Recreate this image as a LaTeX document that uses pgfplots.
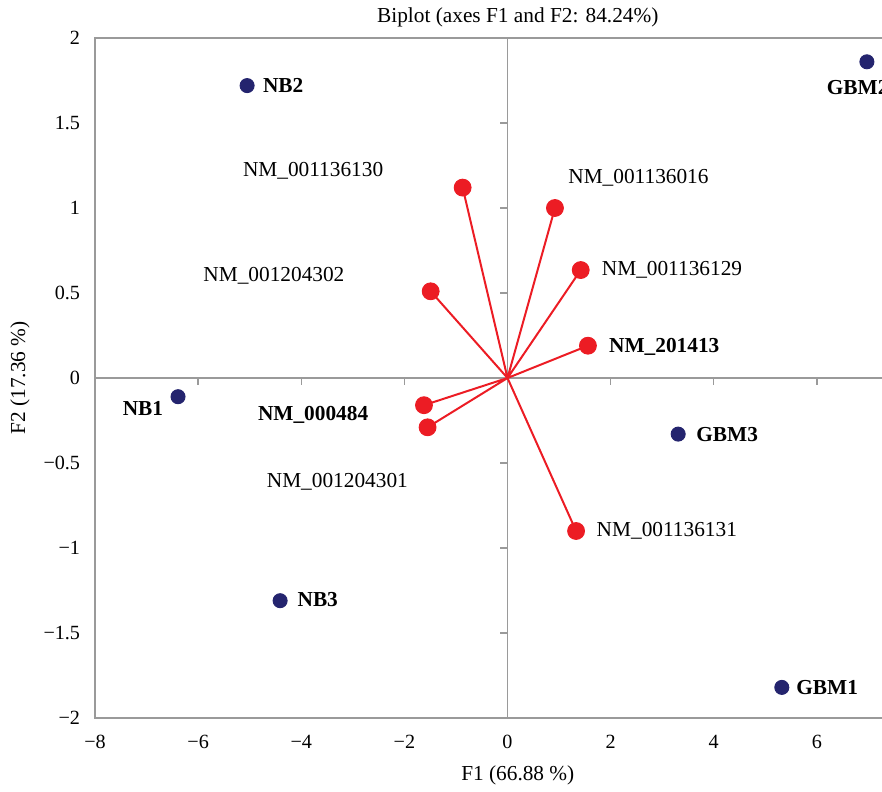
\documentclass[border=0pt]{standalone}
\usepackage{pgfplots}
\pgfplotsset{compat=1.18}
\usepackage{pgfplotstable}
\usepackage{fontspec}
\setmainfont{Liberation Serif}
\usetikzlibrary{calc}
\definecolor{navy}{HTML}{24246E}
\definecolor{vecred}{HTML}{EC1C24}
\definecolor{axgray}{HTML}{9A9A9A}

% sample scores
\pgfplotstableread{
x y
-6.39 -0.11
-5.05 1.72
-4.41 -1.31
5.32 -1.82
6.97 1.86
3.31 -0.33
}\samples

% sample label centres
\pgfplotstableread{
x y lab
-7.07 -0.182 NB1
-4.35 1.718 NB2
-3.68 -1.306 NB3
6.20 -1.818 GBM1
6.79 1.706 GBM2
4.26 -0.33 GBM3
}\samplelabels

% variable loadings, each drawn from the origin
\pgfplotstableread{
x y
0 0
-0.87 1.12
nan nan
0 0
0.92 1.00
nan nan
0 0
1.42 0.635
nan nan
0 0
1.56 0.19
nan nan
0 0
-1.49 0.51
nan nan
0 0
-1.62 -0.16
nan nan
0 0
-1.55 -0.29
nan nan
0 0
1.33 -0.90
}\vectors

\pgfplotstableread{
x y
-0.87 1.12
0.92 1.00
1.42 0.635
1.56 0.19
-1.49 0.51
-1.62 -0.16
-1.55 -0.29
1.33 -0.90
}\loadings

\pgfplotstableread{
x y lab
-3.77 1.218 {NM\_001136130}
2.54 1.176 {NM\_001136016}
3.19 0.635 {NM\_001136129}
3.04 0.182 {\textbf{NM\_201413}}
-4.53 0.60 {NM\_001204302}
-3.77 -0.218 {\textbf{NM\_000484}}
-3.30 -0.612 {NM\_001204301}
3.09 -0.90 {NM\_001136131}
}\loadlabels

\begin{document}
\begin{tikzpicture}[font=\fontsize{9.1}{11}\selectfont]
\begin{axis}[
    name=ax,
    scale only axis,
    width=123.75mm, height=102mm,
    xmin=-8, xmax=8, ymin=-2, ymax=2,
    axis line style={draw=none},
    major tick length=0pt,
    xtick={-8,-6,...,6},
    xticklabels={−8,−6,−4,−2,0,2,4,6},
    ytick={-2,-1.5,...,2},
    yticklabels={−2,−1.5,−1,−0.5,0,0.5,1,1.5,2},
    tick label style={font=\fontsize{8.6}{10}\selectfont},
    xticklabel style={yshift=-1.3mm},
    yticklabel style={xshift=-1mm},
    every axis title shift=0pt,
    title={Biplot (axes F1 and F2: 84.24\%)},
    title style={at={(axis description cs:0.5125,1.0309)}, anchor=center},
    xlabel={F1 (66.88 \%)},
    xlabel style={at={(axis description cs:0.5125,-0.0838)}, anchor=center},
    ylabel={F2 (17.36 \%)},
    ylabel style={at={(axis description cs:-0.0909,0.5)}, anchor=center},
    clip=false,
    unbounded coords=jump,
]
% frame and zero lines
\draw[axgray, line width=0.6pt] (axis cs:8,2) -- (axis cs:-8,2) -- (axis cs:-8,-2) -- (axis cs:8,-2);
\draw[axgray, line width=0.6pt] (axis cs:-8,0) -- (axis cs:8,0);
\draw[axgray, line width=0.6pt] (axis cs:0,-2) -- (axis cs:0,2);
\pgfplotsinvokeforeach{-6,-4,-2,2,4,6}{
  \draw[axgray, line width=0.6pt] (axis cs:#1,0) -- (axis cs:#1,-0.041);
}
\pgfplotsinvokeforeach{-1.5,-1,-0.5,0.5,1,1.5}{
  \draw[axgray, line width=0.6pt] (axis cs:0,#1) -- (axis cs:-0.136,#1);
}

% loading vectors
\addplot[vecred, line width=0.85pt, mark=none] table[x=x, y=y] {\vectors};
\addplot[only marks, mark=*, mark size=3.6pt, color=vecred] table[x=x, y=y] {\loadings};
\addplot[only marks, mark=none, nodes near coords, point meta=explicit symbolic,
    nodes near coords align=center, nodes near coords style={inner sep=0pt, text=black}]
    table[x=x, y=y, meta=lab] {\loadlabels};

% sample scores
\addplot[only marks, mark=*, mark size=3pt, color=navy] table[x=x, y=y] {\samples};
\addplot[only marks, mark=none, nodes near coords, point meta=explicit symbolic,
    nodes near coords align=center,
    nodes near coords style={inner sep=0pt, text=black, font=\fontsize{9.1}{11}\selectfont\bfseries}]
    table[x=x, y=y, meta=lab] {\samplelabels};
\end{axis}
\pgfresetboundingbox
\path[use as bounding box] ($(ax.south west)+(-14.25mm,-10.95mm)$) rectangle ($(ax.north west)+(118.05mm,5.7mm)$);
\end{tikzpicture}
\end{document}
